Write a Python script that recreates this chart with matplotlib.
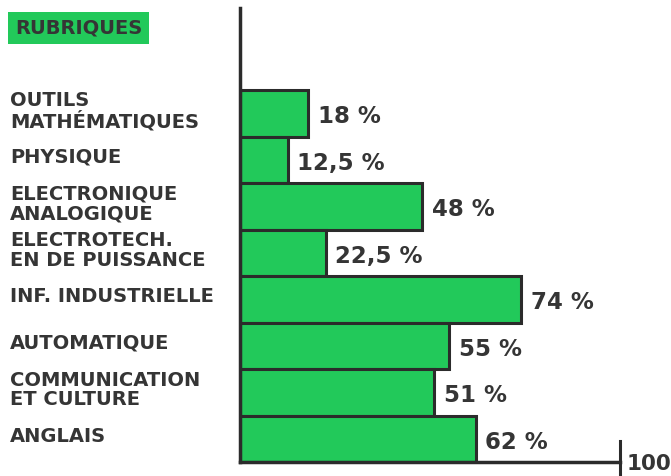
import matplotlib.pyplot as plt
import matplotlib.transforms as mtransforms

# Rubriques, listed top to bottom
rubriques = [
    "OUTILS\nMATHÉMATIQUES",
    "PHYSIQUE",
    "ELECTRONIQUE\nANALOGIQUE",
    "ELECTROTECH.\nEN DE PUISSANCE",
    "INF. INDUSTRIELLE",
    "AUTOMATIQUE",
    "COMMUNICATION\nET CULTURE",
    "ANGLAIS",
]
pourcentages = [18, 12.5, 48, 22.5, 74, 55, 51, 62]
etiquettes = ["18 %", "12,5 %", "48 %", "22,5 %", "74 %", "55 %", "51 %", "62 %"]

vert = "#22c95a"
encre = "#353535"
plt.rcParams['font.family'] = ['DejaVu Sans']

fig = plt.figure(figsize=(6.71, 4.76), dpi=100)
fig.patch.set_facecolor("white")

# axes box: 0 % at x=240px, 100 % at x=620px, bottom at y=462px, top at y=8px
ax = fig.add_axes([240 / 671, 14 / 476, 380 / 671, 454 / 476])
n = len(pourcentages)
ypos = [n - 1 - i for i in range(n)]

ax.barh(ypos, pourcentages, height=1.0, color=vert, edgecolor="#2b2b2b",
        linewidth=2.2, zorder=2)

ax.set_xlim(0, 100)
ax.set_ylim(-0.5, -0.5 + (462 - 8) / 46.5)
ax.set_xticks([])
ax.set_yticks([])
for s in ["top", "right"]:
    ax.spines[s].set_visible(False)
for s in ["left", "bottom"]:
    ax.spines[s].set_linewidth(2.5)
    ax.spines[s].set_color("#2b2b2b")

# graduation 100
ax.plot([100, 100], [-0.5 - 0.35, -0.5 + 0.45], color="#2b2b2b", lw=2.2,
        clip_on=False, zorder=3)
ax.text(101.8, -0.55, "100", fontsize=15.5, fontweight="bold", color=encre,
        ha="left", va="center", clip_on=False)

# values at the end of each bar
for y, v, lab in zip(ypos, pourcentages, etiquettes):
    ax.text(v + 2.6, y - 0.08, lab, fontsize=16.5, fontweight="bold",
            color=encre, ha="left", va="center")

# category names on the left
lab_tr = mtransforms.blended_transform_factory(fig.transFigure, ax.transData)
for y, r in zip(ypos, rubriques):
    ax.text(10 / 671, y + 0.05, r, transform=lab_tr, fontsize=14,
            fontweight="bold", color=encre, ha="left", va="center",
            linespacing=1.05, clip_on=False)

# header box
fig.text(15 / 671, 1 - 28 / 476, "RUBRIQUES", fontsize=14, fontweight="bold",
         color=encre, ha="left", va="center",
         bbox=dict(boxstyle="square,pad=0.35", facecolor=vert, edgecolor="none"))

fig.savefig("out.png", dpi=100)
